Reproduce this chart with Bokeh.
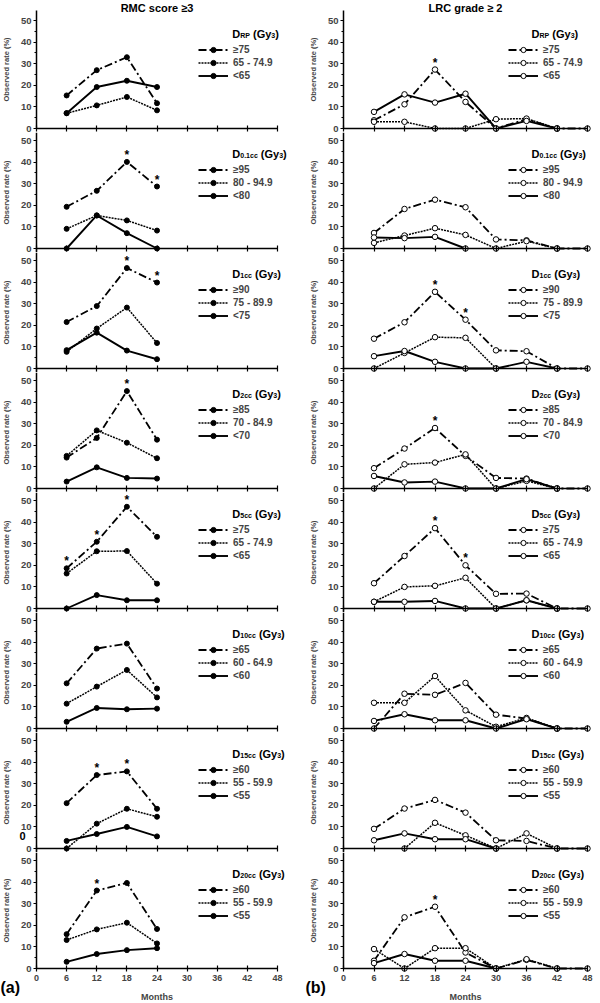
import numpy as np
from bokeh.plotting import figure
from bokeh.models import (ColumnDataSource, Legend, LegendItem, Label, FixedTicker, Range1d,
                          CustomLabelingPolicy)
from bokeh.layouts import column, row
from bokeh.embed import file_html
from bokeh.resources import INLINE
from bokeh.core.properties import value

# ---------------- data ----------------
months_a = [6, 12, 18, 24]
months_b = [6, 12, 18, 24, 30, 36, 42, 48]
x_ticks = [0, 6, 12, 18, 24, 30, 36, 42, 48]
y_ticks = [0, 10, 20, 30, 40, 50]

col_titles = ["RMC score \u22653", "LRC grade \u2265 2"]
panel_tags = ["(a)", "(b)"]
dose_subs = ["RP", "0.1cc", "1cc", "2cc", "5cc", "10cc", "15cc", "20cc"]
label_hi = ["\u226575", "\u226595", "\u226590", "\u226585", "\u226575", "\u226565", "\u226560", "\u226560"]
label_mid = ["65 - 74.9", "80 - 94.9", "75 - 89.9", "70 - 84.9", "65 - 74.9",
             "60 - 64.9", "55 - 59.9", "55 - 59.9"]
label_lo = ["<65", "<80", "<75", "<70", "<65", "<60", "<55", "<55"]

rmc_hi = [
    [15.3, 27.0, 33.0, 11.7],
    [19.3, 26.7, 40.1, 28.7],
    [21.5, 28.9, 46.5, 39.8],
    [14.3, 23.4, 45.1, 22.6],
    [18.6, 30.9, 47.1, 33.2],
    [20.9, 37.0, 39.3, 18.5],
    [21.0, 34.0, 35.7, 18.4],
    [15.9, 36.1, 39.6, 18.3],
]
rmc_mid = [
    [7.1, 10.7, 14.6, 8.4],
    [9.1, 15.3, 13.0, 8.3],
    [7.7, 18.5, 28.2, 11.8],
    [15.1, 26.9, 21.2, 14.0],
    [16.2, 26.5, 26.6, 11.5],
    [11.5, 19.4, 27.1, 14.4],
    [0.0, 11.5, 18.4, 14.7],
    [13.2, 18.1, 21.2, 11.6],
]
rmc_lo = [
    [7.1, 19.2, 22.1, 19.2],
    [0.0, 15.3, 7.1, 0.0],
    [8.5, 16.6, 8.3, 4.3],
    [3.2, 9.8, 4.9, 4.6],
    [0.0, 6.2, 3.8, 3.8],
    [3.1, 9.5, 8.9, 9.2],
    [3.5, 6.7, 10.0, 5.6],
    [3.1, 6.7, 8.5, 9.4],
]
rmc_stars = [[], [18, 24], [18, 24], [18], [6, 12, 18], [], [12, 18], [12]]

lrc_hi = [
    [3.8, 11.2, 27.3, 12.3, 0, 4.3, 0, 0],
    [7.2, 18.3, 22.6, 19.1, 4.2, 3.8, 0, 0],
    [13.8, 21.4, 35.5, 22.6, 8.4, 8.0, 0, 0],
    [9.4, 18.5, 28.0, 15.1, 4.9, 4.6, 0, 0],
    [11.7, 24.3, 37.2, 20.0, 6.8, 6.9, 0, 0],
    [0, 16.1, 15.6, 21.1, 6.4, 4.6, 0, 0],
    [9.1, 18.5, 22.5, 16.6, 3.8, 3.5, 0, 0],
    [3.6, 23.7, 28.6, 7.4, 0, 4.0, 0, 0],
]
lrc_mid = [
    [3.1, 3.1, 0, 0, 4.3, 4.6, 0, None],
    [2.6, 6.0, 9.4, 6.3, 0, 3.4, 0, None],
    [0, 7.2, 14.5, 14.2, 0, None, None, None],
    [0, 11.2, 12.0, 15.8, 0, 3.5, 0, None],
    [3.1, 10.0, 10.5, 14.2, 0, 3.8, 0, None],
    [11.9, 11.9, 24.3, 8.4, 0.8, 4.9, 0, None],
    [None, 0, 11.9, 6.1, 0, 7.0, 0, None],
    [9.0, 0, 9.4, 9.4, 0, 4.3, 0, None],
]
lrc_lo = [
    [7.7, 15.8, 12.0, 16.1, 0, 3.5, 0, None],
    [5.1, 4.8, 5.4, 0, None, None, None, None],
    [5.7, 8.1, 3.1, 0, 0, 3.1, 0, None],
    [5.8, 2.8, 3.2, 0, 0, 4.3, 0, None],
    [3.1, 3.1, 3.5, 0, 0, 3.8, 0, None],
    [3.5, 6.6, 3.8, 3.8, 0, 4.3, 0, None],
    [3.8, 7.0, 4.3, 4.3, 0, None, None, None],
    [2.5, 6.7, 3.6, 3.6, 0, None, None, None],
]
lrc_stars = [[18], [], [18, 24], [18], [18, 24], [], [], [18]]

# ---------------- geometry / style ----------------
FONT = "Liberation Sans"
W = {'D': 722, 'R': 722, 'P': 667, 'G': 778, 'y': 556, 'c': 556, '(': 333, ')': 333,
     ' ': 278, '.': 278}

PX_Y = 2.16          # px per percent
PITCH = 120          # px per panel row
BASE_B = 4           # px below zero line (middle rows)
TOP_EXTRA = 12       # title band
BOT_B = 34           # px below zero line on bottom row
# columns: (figure width px, px-position of x=0, px per month)
COLS = [dict(w=305, x0px=36, pxm=241 / 48.0, leg_x=198, dx=39.0),
        dict(w=295, x0px=38, pxm=244 / 48.0, leg_x=203, dx=37.0)]


def tw(s, size):
    return sum(W.get(ch, 556) for ch in s) * size / 1000.0


def add_label(p, x, y, text, size, x_offset=0, y_offset=0, align="left", baseline="alphabetic"):
    p.add_layout(Label(x=x, y=y, text=text, x_offset=x_offset, y_offset=y_offset,
                       text_font=FONT, text_font_size=f"{size}px", text_font_style="bold",
                       text_align=align, text_baseline=baseline, text_color="black"))


def arr(v):
    return np.array([np.nan if a is None else a for a in v], dtype=float)


def make_panel(col, k):
    left = col == 0
    c = COLS[col]
    months = months_a if left else months_b
    hi = (rmc_hi if left else lrc_hi)[k]
    mid = (rmc_mid if left else lrc_mid)[k]
    lo = (rmc_lo if left else lrc_lo)[k]
    stars = (rmc_stars if left else lrc_stars)[k]
    top = k == 0
    bottom = k == 7

    below_px = BOT_B if bottom else BASE_B
    height = PITCH - BASE_B + below_px + (TOP_EXTRA if top else 0)
    above0_px = height - below_px
    y0 = -below_px / PX_Y
    y1 = above0_px / PX_Y
    x0 = -c["x0px"] / c["pxm"]
    x1 = x0 + c["w"] / c["pxm"]

    p = figure(frame_width=c["w"], frame_height=height, title=None,
               x_range=Range1d(x0, x1), y_range=Range1d(y0, y1),
               output_backend="svg", toolbar_location=None,
               min_border=0, min_border_left=0, min_border_right=0,
               min_border_top=0, min_border_bottom=0)
    p.xgrid.visible = False
    p.ygrid.visible = False
    p.outline_line_color = None
    p.background_fill_color = "white"
    p.border_fill_color = "white"

    # y axis, fixed at x = 0
    ya = p.yaxis[0]
    ya.fixed_location = 0
    ya.ticker = FixedTicker(ticks=y_ticks, minor_ticks=[5, 15, 25, 35, 45])
    if top:
        ya.bounds = (0, 54.7)
    elif bottom:
        ya.bounds = (0, y1)
    else:
        ya.bounds = (y0, y1)
    ya.axis_line_width = 1.5
    ya.major_tick_line_width = 1.2
    ya.major_tick_out = 3
    ya.major_tick_in = 0
    ya.minor_tick_out = 2
    ya.minor_tick_in = 0
    ya.major_label_text_font = FONT
    ya.major_label_text_font_size = "9.5px"
    ya.major_label_text_font_style = "bold"
    ya.major_label_standoff = 2
    ya.axis_label = "Observed rate (%)"
    ya.axis_label_text_font = FONT
    ya.axis_label_text_font_size = "7.5px"
    ya.axis_label_text_font_style = "bold"
    ya.axis_label_standoff = 7

    # x axis, fixed at y = 0
    xa = p.xaxis[0]
    xa.fixed_location = 0
    xa.bounds = (0, 48)
    xa.ticker = FixedTicker(ticks=x_ticks, minor_ticks=[])
    xa.axis_line_width = 1.5
    xa.major_tick_line_width = 1.2
    xa.major_tick_out = 3
    xa.major_tick_in = 3
    xa.minor_tick_out = 0
    xa.minor_tick_in = 0
    xa.major_label_text_font = FONT
    xa.major_label_text_font_style = "bold"
    xa.major_label_text_font_size = "9px"
    xa.major_label_standoff = 3
    if bottom:
        xa.axis_label = "Months"
        xa.axis_label_text_font = FONT
        xa.axis_label_text_font_size = "9px"
        xa.axis_label_text_font_style = "bold"
        xa.axis_label_standoff = 8
    else:
        xa.major_label_policy = CustomLabelingPolicy(code="return []")

    # series
    src = ColumnDataSource(dict(x=months, hi=arr(hi), mid=arr(mid), lo=arr(lo)))
    fill = "black" if left else "white"
    msize = 5 if left else 5.5
    specs = [("hi", "8 3 2 3", 1.8, label_hi[k]), ("mid", "2 1", 1.5, label_mid[k]),
             ("lo", "solid", 1.9, label_lo[k])]
    items = []
    for key, dash, lw, lab in specs:
        lr = p.line("x", key, source=src, line_color="black", line_width=lw, line_dash=dash)
        sr = p.scatter("x", key, source=src, marker="circle", size=msize,
                       fill_color=fill, line_color="black", line_width=1)
        items.append(LegendItem(label=lab, renderers=[lr, sr]))

    # significance stars on the high-dose series
    if stars:
        sy = [hi[months.index(m)] for m in stars]
        p.text(x=stars, y=sy, text=["*"] * len(stars), text_align="center",
               text_baseline="middle", y_offset=-7, text_font=value(FONT),
               text_font_size=value("12px"), text_font_style="bold", text_color="black")

    # legend: first item centre 25 px below the 50 line
    item1_from_bottom = below_px + 50 * PX_Y - 25
    legend = Legend(items=items, location=(c["leg_x"], int(round(item1_from_bottom - 37))),
                    orientation="vertical",
                    glyph_width=30, glyph_height=13, label_height=13, label_standoff=5,
                    spacing=0, padding=0, margin=0,
                    label_text_font=FONT, label_text_font_size="10px",
                    label_text_font_style="bold",
                    border_line_color=None, background_fill_alpha=0)
    p.add_layout(legend, "center")

    # legend heading: D_sub (Gy_3)
    xd = c["dx"]
    yb = 50 - 13.3 / PX_Y
    off = 0.0
    add_label(p, xd, yb, "D", 11, x_offset=off)
    off += tw("D", 11)
    add_label(p, xd, yb, dose_subs[k], 7, x_offset=off, y_offset=-1.5)
    off += tw(dose_subs[k], 7) + tw(" ", 11)
    add_label(p, xd, yb, "(Gy", 11, x_offset=off)
    off += tw("(Gy", 11)
    add_label(p, xd, yb, "3", 7, x_offset=off, y_offset=-1.5)
    off += tw("3", 7)
    add_label(p, xd, yb, ")", 11, x_offset=off)

    if top:
        add_label(p, 24, 50 + 13 / PX_Y, col_titles[col], 11, align="center", baseline="middle")
    if left and k == 6:
        add_label(p, -2.8, 5.6, "0", 11, align="center", baseline="middle")
    if bottom:
        add_label(p, x0, -19 / PX_Y, panel_tags[col], 16, baseline="middle")
    return p


rows = []
for k in range(8):
    rows.append(row(make_panel(0, k), make_panel(1, k), spacing=0))
layout = column(*rows, spacing=0)

open("out.html", "w").write(file_html(layout, INLINE))
